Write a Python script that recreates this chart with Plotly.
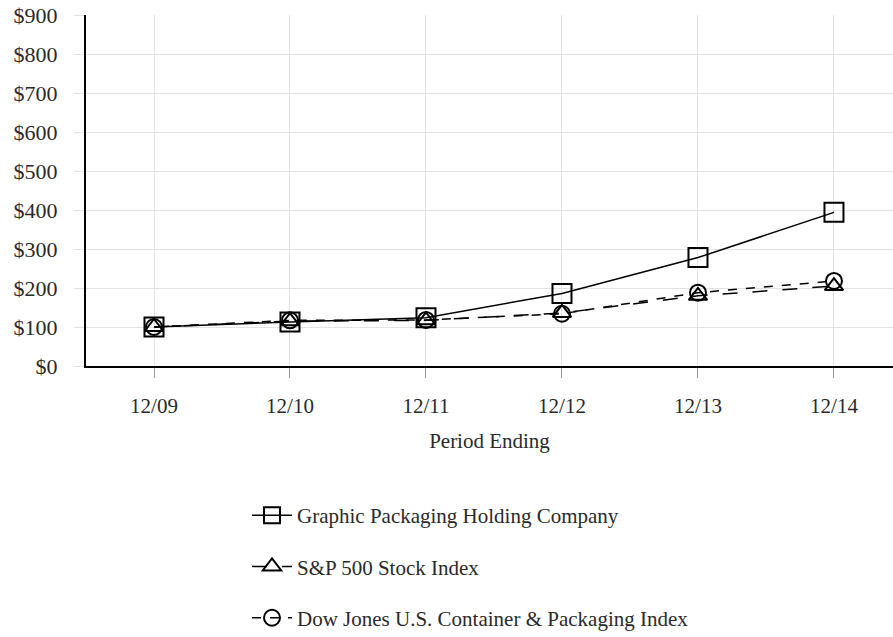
import plotly.graph_objects as go

periods = ["12/09", "12/10", "12/11", "12/12", "12/13", "12/14"]
gpk = [100, 113, 124, 186, 278, 394]
sp500 = [100, 115, 117, 136, 180, 205]
dowjones = [100, 117, 118, 134, 188, 218]
yticks = [0, 100, 200, 300, 400, 500, 600, 700, 800, 900]

FONT = "Liberation Serif"
TXT = "#2a2a2a"
x = list(range(len(periods)))

fig = go.Figure()
fig.add_trace(go.Scatter(
    x=x, y=gpk, name="Graphic Packaging Holding Company", mode="lines+markers",
    legendgroup="a",
    line=dict(color="black", width=1.5),
    marker=dict(symbol="square-open", size=19, color="black", line=dict(width=2))))
fig.add_trace(go.Scatter(
    x=x, y=sp500, name="S&P 500 Stock Index", mode="lines+markers",
    legendgroup="b",
    line=dict(color="black", width=1.5, dash="longdash"),
    marker=dict(symbol="triangle-up-open", size=16, color="black", line=dict(width=2))))
fig.add_trace(go.Scatter(
    x=x, y=dowjones, name="Dow Jones U.S. Container & Packaging Index", mode="lines+markers",
    legendgroup="c",
    line=dict(color="black", width=1.5, dash="dash"),
    marker=dict(symbol="circle-open", size=16, color="black", line=dict(width=2))))

fig.update_layout(
    width=893, height=637,
    margin=dict(l=86, r=0, t=15, b=271, autoexpand=False),
    paper_bgcolor="white", plot_bgcolor="white",
    font=dict(family=FONT, size=21, color=TXT),
    showlegend=True,
    legend=dict(
        xref="container", yref="container",
        x=247 / 893, y=1 - 495 / 637, xanchor="left", yanchor="top",
        font=dict(family=FONT, size=21, color=TXT),
        tracegroupgap=21, bgcolor="rgba(0,0,0,0)", itemwidth=40,
    ),
    xaxis=dict(
        tickmode="array", tickvals=x, ticktext=periods,
        range=[-0.5, 5.434],
        showgrid=True, gridcolor="#e3e3e3", gridwidth=1,
        showline=True, linecolor="black", linewidth=2,
        ticks="outside", ticklen=10, tickcolor="#999", tickwidth=1,
        ticklabelstandoff=10,
        tickfont=dict(family=FONT, size=21, color=TXT),
        zeroline=False,
        title=dict(text="Period Ending", font=dict(family=FONT, size=21, color=TXT), standoff=16),
    ),
    yaxis=dict(
        range=[0, 900], tickmode="array", tickvals=yticks,
        ticktext=["$" + str(v) for v in yticks],
        showgrid=True, gridcolor="#e3e3e3", gridwidth=1,
        showline=True, linecolor="black", linewidth=2,
        ticks="outside", ticklen=10, tickcolor="#e3e3e3", tickwidth=1,
        ticklabelstandoff=12, ticklabeloverflow="allow",
        tickfont=dict(family=FONT, size=22, color=TXT),
        zeroline=False,
    ),
)

fig.write_html("out.html", config={"displayModeBar": False},
               post_script="document.body.style.margin='0';")
